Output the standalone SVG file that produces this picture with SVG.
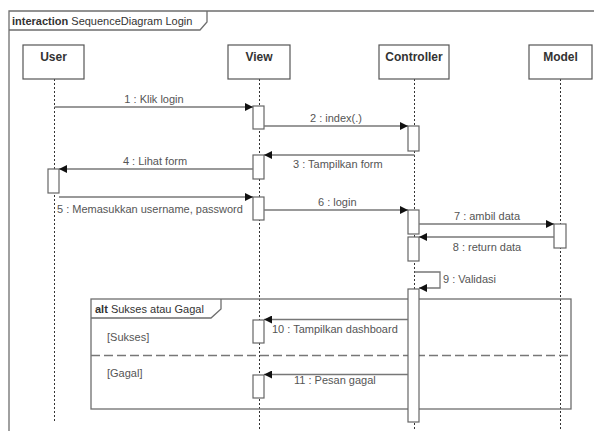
<svg xmlns="http://www.w3.org/2000/svg" width="594" height="431" viewBox="0 0 594 431">
<style>
.frame{fill:none;stroke:#6e6e6e;stroke-width:1.3}
.head{fill:#fff;stroke:#555;stroke-width:1.2}
.hl{font-family:"Liberation Sans",Arial,sans-serif;font-size:12px;font-weight:bold;fill:#333;text-anchor:middle}
.life{stroke:#333;stroke-width:1;stroke-dasharray:2 2;fill:none}
.act{fill:#fff;stroke:#666;stroke-width:1.2}
.msg{stroke:#777;stroke-width:1.3;fill:none}
.lbl{font-family:"Liberation Sans",Arial,sans-serif;font-size:11px;fill:#555}
.mid{text-anchor:middle}
.ttl{font-family:"Liberation Sans",Arial,sans-serif;font-size:11px;fill:#333}
</style>
<defs>
<marker id="arr" viewBox="0 0 10 10" refX="10" refY="5" markerWidth="9" markerHeight="8" markerUnits="userSpaceOnUse" orient="auto">
<path d="M0,0 L10,5 L0,10 Z" fill="#111"/>
</marker>
</defs>
<rect width="594" height="431" fill="#fff"/>
<g id="frame">
<path class="frame" d="M9,431 L9,11 L594,11"/>
<path class="frame" d="M9,30 L200,30 L207,22 L207,11"/>
<text class="ttl" x="12" y="25"><tspan font-weight="bold">interaction</tspan> SequenceDiagram Login</text>
</g>
<g id="lifelines">
<path class="life" d="M54.5,79 V423"/>
<path class="life" d="M259.5,79 V431"/>
<path class="life" d="M414.5,79 V431"/>
<path class="life" d="M560.5,79 V431"/>
</g>
<g id="alt">
<rect class="frame" x="91" y="299" width="480" height="110"/>
<path class="frame" d="M91,318 L211,318 L221,309 L221,299"/>
<text class="ttl" x="95" y="313"><tspan font-weight="bold">alt</tspan> Sukses atau Gagal</text>
<path d="M91,355.5 H571" stroke="#777" stroke-width="1.3" stroke-dasharray="9 4"/>
<text class="lbl" x="107" y="341">[Sukses]</text>
<text class="lbl" x="107" y="377">[Gagal]</text>
</g>
<g id="User">
<rect class="head" x="23" y="45" width="61" height="34"/>
<text class="hl" x="53.5" y="61">User</text>
<rect class="act" x="48" y="169" width="11" height="24"/>
</g>
<g id="View">
<rect class="head" x="228" y="45" width="62" height="34"/>
<text class="hl" x="259" y="61">View</text>
<rect class="act" x="253" y="106" width="11" height="23"/>
<rect class="act" x="253" y="155" width="11" height="24"/>
<rect class="act" x="253" y="197" width="11" height="23"/>
<rect class="act" x="253" y="320" width="11" height="23"/>
<rect class="act" x="253" y="375" width="11" height="23"/>
</g>
<g id="Controller">
<rect class="head" x="379" y="45" width="70" height="34"/>
<text class="hl" x="414" y="61">Controller</text>
<rect class="act" x="408" y="126" width="11" height="25"/>
<rect class="act" x="408" y="210" width="11" height="24"/>
<rect class="act" x="408" y="237" width="11" height="24"/>
<rect class="act" x="408" y="289" width="11" height="133"/>
</g>
<g id="Model">
<rect class="head" x="529" y="45" width="63" height="34"/>
<text class="hl" x="560.5" y="61">Model</text>
<rect class="act" x="554" y="224" width="12" height="24"/>
</g>
<g id="connectors">
<path class="msg" d="M54.5,107 H253" marker-end="url(#arr)"/>
<text class="lbl mid" x="154" y="103">1 : Klik login</text>
<path class="msg" d="M264,126 H408" marker-end="url(#arr)"/>
<text class="lbl" x="310" y="122">2 : index(.)</text>
<path class="msg" d="M414.5,155 H264" marker-end="url(#arr)"/>
<text class="lbl" x="293" y="168">3 : Tampilkan form</text>
<path class="msg" d="M253,169 H59" marker-end="url(#arr)"/>
<text class="lbl mid" x="155" y="165">4 : Lihat form</text>
<path class="msg" d="M59,197 H253" marker-end="url(#arr)"/>
<text class="lbl" x="57" y="213">5 : Memasukkan username, password</text>
<path class="msg" d="M264,210 H408" marker-end="url(#arr)"/>
<text class="lbl" x="318" y="206">6 : login</text>
<path class="msg" d="M419,224 H554" marker-end="url(#arr)"/>
<text class="lbl mid" x="487" y="220">7 : ambil data</text>
<path class="msg" d="M554,237 H419" marker-end="url(#arr)"/>
<text class="lbl mid" x="487" y="251">8 : return data</text>
<path class="msg" d="M414.5,272 H440 V288 H419" marker-end="url(#arr)"/>
<text class="lbl" x="443" y="283">9 : Validasi</text>
<path class="msg" d="M408,319.5 H264" marker-end="url(#arr)"/>
<text class="lbl" x="272" y="333">10 : Tampilkan dashboard</text>
<path class="msg" d="M408,374.5 H264" marker-end="url(#arr)"/>
<text class="lbl" x="294" y="384">11 : Pesan gagal</text>
</g>
</svg>
